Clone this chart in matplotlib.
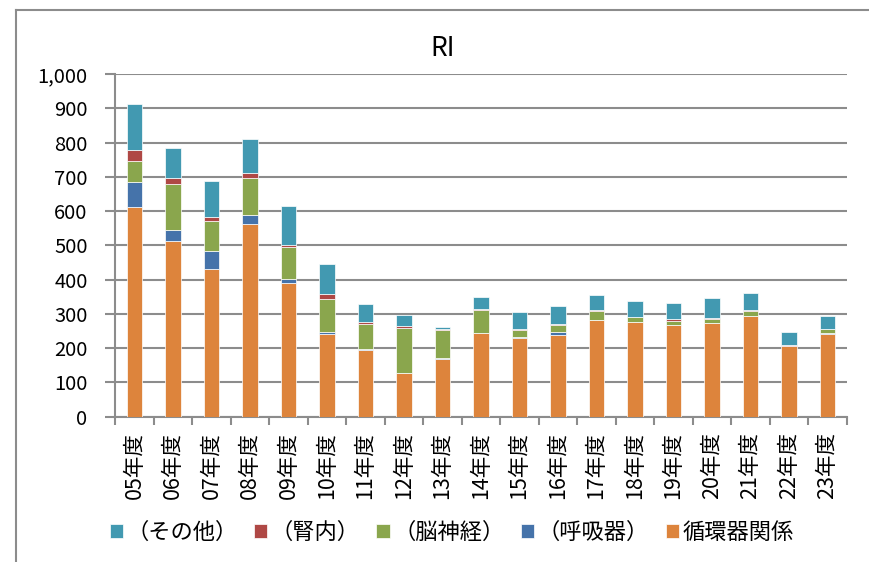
import matplotlib
matplotlib.use('Agg')
from matplotlib import pyplot as plt
from matplotlib.lines import Line2D
import numpy as np

plt.rcParams['font.family'] = ['Noto Sans CJK JP', 'DejaVu Sans']

years = ['05年度', '06年度', '07年度', '08年度', '09年度', '10年度', '11年度', '12年度',
         '13年度', '14年度', '15年度', '16年度', '17年度', '18年度', '19年度', '20年度',
         '21年度', '22年度', '23年度']
junkanki = [613, 512, 431, 563, 389, 240, 194, 127, 168, 243, 230, 239, 281, 276, 267, 273, 294, 205, 240]
kokyuki = [71, 32, 53, 26, 13, 7, 3, 2, 4, 1, 4, 8, 1, 0, 1, 1, 0, 0, 4]
noshinkei = [62, 134, 87, 107, 94, 97, 73, 131, 81, 66, 19, 21, 27, 14, 10, 12, 15, 0, 11]
jinnai = [32, 18, 11, 16, 6, 13, 6, 5, 4, 4, 3, 3, 2, 1, 7, 3, 2, 4, 1]
sonota = [134, 89, 107, 99, 113, 89, 53, 31, 4, 35, 51, 53, 45, 46, 47, 56, 49, 38, 39]

series = [('循環器関係', junkanki, '#DD843C'),
          ('（呼吸器）', kokyuki, '#4573AA'),
          ('（脳神経）', noshinkei, '#8AA64D'),
          ('（腎内）', jinnai, '#AF4845'),
          ('（その他）', sonota, '#4299B1')]

fig = plt.figure(figsize=(8.7, 5.62), dpi=100)
ax = fig.add_axes([0.1326, 0.2585, 0.8406, 0.6098])

x = np.arange(len(years))
bottom = np.zeros(len(years))
handles = []
for name, vals, col in series:
    b = ax.bar(x, vals, 0.41, bottom=bottom, color=col, edgecolor='#ffffff', linewidth=0.5, label=name, zorder=3)
    bottom += np.array(vals)
    handles.append(b)

ax.set_xlim(-0.5, len(years) - 0.5)
ax.set_ylim(0, 1000)
ax.set_yticks(range(0, 1001, 100))
ax.set_yticklabels(['0', '100', '200', '300', '400', '500', '600', '700', '800', '900', '1,000'])
ax.yaxis.grid(True, color='#8c8c8c', linewidth=1.5, zorder=0)
ax.set_xticks(x)
ax.set_xticklabels(years, rotation=90)
ax.set_xticks(np.arange(-0.5, len(years), 1), minor=True)
ax.tick_params(axis='x', which='major', length=0, pad=11, labelsize=15.5)
ax.tick_params(axis='x', which='minor', length=6, width=1.5, color='#8c8c8c')
ax.tick_params(axis='y', length=7, width=1.5, color='#8c8c8c', labelsize=14.5, pad=13)
for s in ['top', 'right']:
    ax.spines[s].set_visible(False)
for s in ['left', 'bottom']:
    ax.spines[s].set_color('#8c8c8c')
    ax.spines[s].set_linewidth(1.5)

fig.text(0.509, 0.913, 'RI', ha='center', va='center', fontsize=19)

leg_h = handles[::-1]
fig.legend(leg_h, [h.get_label() for h in leg_h], loc='center', bbox_to_anchor=(0.519, 0.053),
           ncol=5, frameon=False, fontsize=16, handlelength=0.6, handleheight=0.6,
           handletextpad=0.15, columnspacing=0.75, borderpad=0.1)

# chart border (cropped at right and bottom)
fig.add_artist(Line2D([0.0184, 0.0184], [0.0, 0.982], color='#8c8c8c', linewidth=1.5, transform=fig.transFigure))
fig.add_artist(Line2D([0.0184, 1.0], [0.982, 0.982], color='#8c8c8c', linewidth=1.5, transform=fig.transFigure))

fig.savefig('out.png', dpi=100)
